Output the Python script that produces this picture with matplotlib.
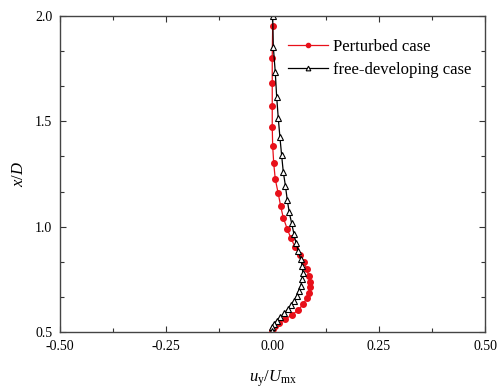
import matplotlib
matplotlib.use("Agg")
import matplotlib.pyplot as plt
from matplotlib.ticker import MultipleLocator
import numpy as np

# Perturbed case (u_y/U_mx, x/D)
pert_u = [0.0005, -0.0005, -0.0005, -0.0005, -0.0005, 0.0005, 0.003, 0.0066,
          0.0136, 0.0193, 0.0254, 0.0348, 0.0435, 0.0536, 0.0647, 0.0741,
          0.0805, 0.0852, 0.0875, 0.0875, 0.0852, 0.0805, 0.0725, 0.0607,
          0.0452, 0.0294, 0.016, 0.0059, 0.0005, -0.002]
pert_x = [1.9525, 1.802, 1.683, 1.573, 1.4745, 1.384, 1.301, 1.226,
          1.158, 1.098, 1.043, 0.989, 0.945, 0.902, 0.866, 0.831,
          0.798, 0.767, 0.739, 0.712, 0.687, 0.660, 0.633, 0.604,
          0.581, 0.560, 0.544, 0.529, 0.513, 0.5025]

# free-developing case
free_u = [0.0005, 0.002, 0.0066, 0.0099, 0.0136, 0.0176, 0.0216, 0.0254,
          0.0306, 0.0348, 0.0395, 0.0452, 0.0506, 0.0553, 0.0607, 0.0664,
          0.0701, 0.0711, 0.0701, 0.0664, 0.0616, 0.0569, 0.0506, 0.0435,
          0.0358, 0.0271, 0.0176, 0.0099, 0.0035, -0.0005, -0.002]
free_x = [2.0, 1.854, 1.734, 1.617, 1.517, 1.424, 1.339, 1.261,
          1.193, 1.127, 1.068, 1.016, 0.965, 0.924, 0.885, 0.847,
          0.813, 0.782, 0.752, 0.718, 0.695, 0.671, 0.649, 0.628,
          0.608, 0.589, 0.570, 0.554, 0.538, 0.522, 0.506]

plt.rcParams['font.family'] = ['Liberation Serif', 'DejaVu Serif']
plt.rcParams['mathtext.fontset'] = 'custom'
plt.rcParams['mathtext.rm'] = 'Liberation Serif'
plt.rcParams['mathtext.it'] = 'Liberation Serif:italic'

fig = plt.figure(figsize=(4.99, 3.92), dpi=100)
ax = fig.add_axes([0.120, 0.153, 0.852, 0.806])

ax.plot(pert_u, pert_x, color='#e8101a', lw=0.9, marker='o', ms=4,
        mec='#e8101a', mfc='#e8101a', label='Perturbed case')
ax.plot(free_u, free_x, color='black', lw=0.9, marker='^', ms=4.5,
        mec='black', mfc='white', mew=0.8, label='free-developing case')

ax.set_xlim(-0.5, 0.5)
ax.set_ylim(0.5, 2.0)
ax.xaxis.set_major_locator(MultipleLocator(0.25))
ax.xaxis.set_minor_locator(MultipleLocator(0.125))
ax.yaxis.set_major_locator(MultipleLocator(0.5))
ax.yaxis.set_minor_locator(MultipleLocator(0.5 / 3))
ax.set_xticklabels([f"{v:.2f}" for v in ax.get_xticks()])
ax.set_yticklabels([f"{v:.1f}" for v in ax.get_yticks()])
ax.tick_params(which='both', direction='in', top=True, right=True,
               labelsize=10, colors='#333333', labelcolor='black', pad=5.5)
ax.tick_params(which='major', length=4, width=0.8)
ax.tick_params(which='minor', length=3, width=0.8)
for s in ax.spines.values():
    s.set_color('#444444')
    s.set_linewidth(1.0)

ax.set_xlabel(r'$u_{\rm y}/U_{\rm mx}$', fontsize=12, labelpad=11)
ax.set_ylabel(r'$x/D$', fontsize=12, labelpad=6)

ax.legend(loc='upper left', bbox_to_anchor=(0.522, 0.95), frameon=False,
          fontsize=12, handlelength=2.4, handletextpad=0.25,
          labelspacing=0.45, borderaxespad=0.0, markerscale=0.75)

fig.savefig('out.png', dpi=100)
